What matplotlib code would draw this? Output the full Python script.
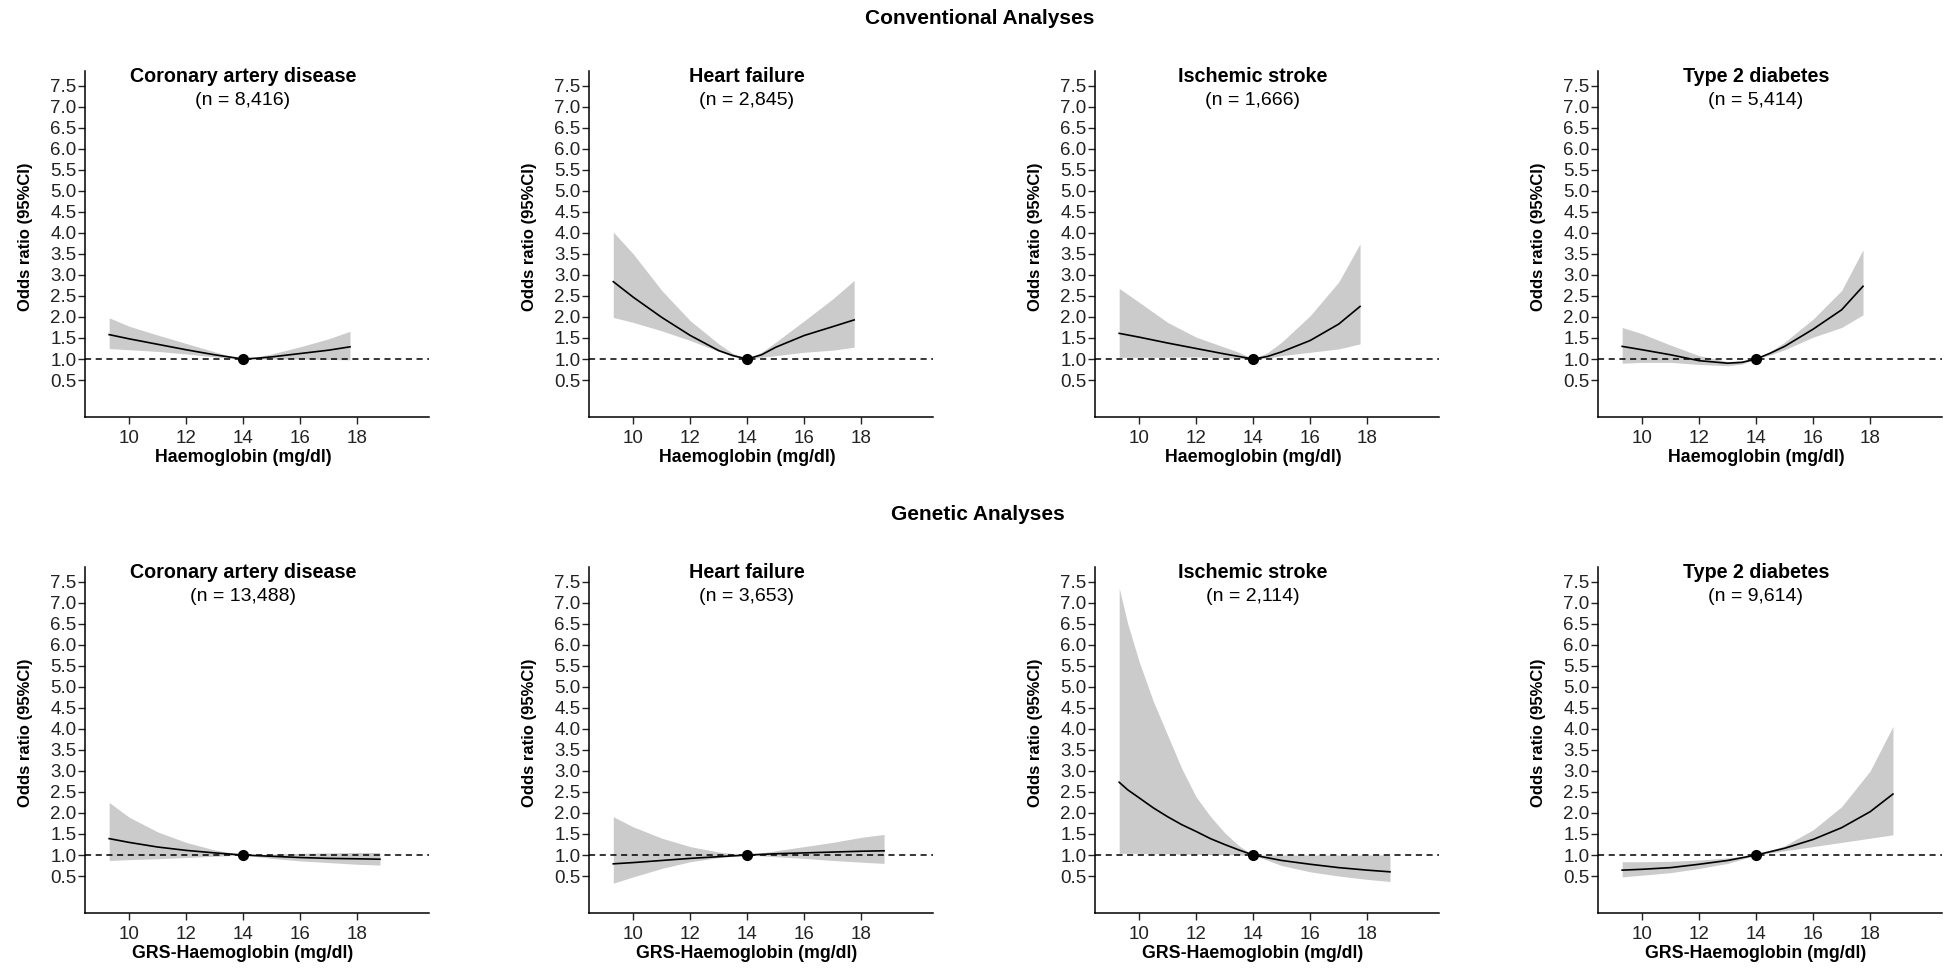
import matplotlib
matplotlib.use('Agg')
import matplotlib.pyplot as plt

plt.rcParams['font.family'] = ['Liberation Sans', 'DejaVu Sans']

# x grids (haemoglobin, mg/dl)
x_conv = [9.3, 10, 11, 12, 13, 13.5, 14, 14.5, 15, 16, 17, 17.75]
x_gen = [9.3, 10, 11, 12, 13, 14, 15, 16, 17, 18, 18.8]
x_gen_is = [9.3, 9.6, 10, 10.5, 11, 11.5, 12, 12.5, 13, 13.5, 14, 15, 16, 17, 18, 18.8]

# conventional analyses: odds ratio, lower, upper
cad_or = [1.58, 1.48, 1.35, 1.22, 1.10, 1.05, 1.0, 1.02, 1.05, 1.13, 1.21, 1.29]
cad_lo = [1.25, 1.22, 1.18, 1.12, 1.05, 1.02, 1.0, 1.00, 1.00, 1.00, 0.99, 0.98]
cad_hi = [1.98, 1.78, 1.57, 1.37, 1.17, 1.08, 1.0, 1.05, 1.12, 1.29, 1.48, 1.66]

hf_or = [2.84, 2.47, 1.99, 1.56, 1.20, 1.08, 1.0, 1.10, 1.28, 1.56, 1.77, 1.93]
hf_lo = [1.99, 1.87, 1.67, 1.44, 1.18, 1.06, 1.0, 1.04, 1.08, 1.16, 1.21, 1.28]
hf_hi = [4.02, 3.50, 2.63, 1.91, 1.36, 1.13, 1.0, 1.16, 1.40, 1.91, 2.43, 2.87]

is_or = [1.61, 1.52, 1.38, 1.25, 1.12, 1.06, 1.0, 1.06, 1.17, 1.44, 1.83, 2.25]
is_lo = [1.04, 1.04, 1.04, 1.05, 1.03, 1.01, 1.0, 1.02, 1.08, 1.16, 1.24, 1.36]
is_hi = [2.68, 2.35, 1.87, 1.52, 1.28, 1.16, 1.0, 1.15, 1.40, 2.03, 2.83, 3.74]

t2d_or = [1.30, 1.22, 1.10, 0.96, 0.90, 0.92, 1.0, 1.14, 1.30, 1.71, 2.17, 2.73]
t2d_lo = [0.90, 0.92, 0.92, 0.87, 0.84, 0.88, 1.0, 1.10, 1.22, 1.52, 1.75, 2.05]
t2d_hi = [1.75, 1.60, 1.33, 1.08, 0.94, 0.96, 1.0, 1.18, 1.40, 1.95, 2.63, 3.60]

# genetic analyses
gcad_or = [1.39, 1.30, 1.19, 1.11, 1.05, 1.0, 0.97, 0.94, 0.92, 0.91, 0.90]
gcad_lo = [0.87, 0.89, 0.91, 0.94, 0.97, 1.0, 0.92, 0.86, 0.82, 0.78, 0.76]
gcad_hi = [2.25, 1.90, 1.55, 1.30, 1.12, 1.0, 1.02, 1.04, 1.05, 1.06, 1.06]

ghf_or = [0.79, 0.82, 0.87, 0.92, 0.96, 1.0, 1.03, 1.05, 1.07, 1.09, 1.10]
ghf_lo = [0.33, 0.48, 0.68, 0.84, 0.94, 1.0, 0.96, 0.92, 0.87, 0.83, 0.80]
ghf_hi = [1.91, 1.67, 1.40, 1.20, 1.07, 1.0, 1.10, 1.20, 1.30, 1.42, 1.49]

gis_or = [2.73, 2.55, 2.36, 2.12, 1.91, 1.72, 1.56, 1.39, 1.25, 1.12, 1.0, 0.87, 0.78, 0.70, 0.64, 0.60]
gis_lo = [1.04, 1.04, 1.04, 1.03, 1.03, 1.02, 1.02, 1.01, 1.01, 1.0, 1.0, 0.75, 0.60, 0.50, 0.42, 0.37]
gis_hi = [7.35, 6.5, 5.6, 4.65, 3.85, 3.05, 2.38, 1.92, 1.53, 1.22, 1.0, 1.0, 1.0, 1.0, 1.0, 1.0]

gt2d_or = [0.64, 0.66, 0.70, 0.78, 0.87, 1.0, 1.16, 1.37, 1.65, 2.03, 2.45]
gt2d_lo = [0.48, 0.52, 0.58, 0.68, 0.80, 1.0, 1.10, 1.20, 1.30, 1.40, 1.48]
gt2d_hi = [0.84, 0.84, 0.85, 0.88, 0.93, 1.0, 1.22, 1.60, 2.15, 3.00, 4.06]

titles = ['Coronary artery disease', 'Heart failure', 'Ischemic stroke', 'Type 2 diabetes']
n_conv = ['(n = 8,416)', '(n = 2,845)', '(n = 1,666)', '(n = 5,414)']
n_gen = ['(n = 13,488)', '(n = 3,653)', '(n = 2,114)', '(n = 9,614)']

conv = [(x_conv, cad_or, cad_lo, cad_hi), (x_conv, hf_or, hf_lo, hf_hi),
        (x_conv, is_or, is_lo, is_hi), (x_conv, t2d_or, t2d_lo, t2d_hi)]
gen = [(x_gen, gcad_or, gcad_lo, gcad_hi), (x_gen, ghf_or, ghf_lo, ghf_hi),
       (x_gen_is, gis_or, gis_lo, gis_hi), (x_gen, gt2d_or, gt2d_lo, gt2d_hi)]

fig = plt.figure(figsize=(19.48, 9.68), dpi=100)

lefts = [0.0436, 0.3024, 0.5621, 0.8203]
bottoms = [0.5692, 0.0568]
w, h = 0.1766, 0.3574

for r, (rows, ns, xlab) in enumerate([(conv, n_conv, 'Haemoglobin (mg/dl)'),
                                       (gen, n_gen, 'GRS-Haemoglobin (mg/dl)')]):
    for c in range(4):
        ax = fig.add_axes([lefts[c], bottoms[r], w, h])
        x, o, lo, hi = rows[c]
        ax.fill_between(x, lo, hi, color='#cbcbcb', lw=0)
        ax.axhline(1.0, color='black', ls=(0, (4, 3)), lw=1.1)
        ax.plot(x, o, color='black', lw=1.2)
        ax.plot([14], [1.0], 'o', color='black', ms=7)
        ax.set_xlim(8.45, 20.52)
        ax.set_ylim(-0.38, 7.85)
        ax.set_xticks([10, 12, 14, 16, 18])
        ax.set_yticks([0.5, 1, 1.5, 2, 2.5, 3, 3.5, 4, 4.5, 5, 5.5, 6, 6.5, 7, 7.5])
        ax.set_yticklabels(['0.5', '1.0', '1.5', '2.0', '2.5', '3.0', '3.5', '4.0',
                            '4.5', '5.0', '5.5', '6.0', '6.5', '7.0', '7.5'])
        ax.tick_params(axis='both', labelsize=13.5, length=5, width=1, colors='#222222')
        ax.tick_params(axis='y', pad=1)
        ax.tick_params(axis='x', pad=4)
        ax.spines['top'].set_visible(False)
        ax.spines['right'].set_visible(False)
        for s in ['left', 'bottom']:
            ax.spines[s].set_linewidth(1.1)
        ax.set_ylabel('Odds ratio (95%CI)', fontsize=12, fontweight='bold')
        ax.yaxis.set_label_coords(-0.151, 0.52)
        ax.set_xlabel(xlab, fontsize=12.8, fontweight='bold')
        ax.xaxis.set_label_coords(0.459, -0.092)
        ax.text(0.459, 0.985, titles[c], transform=ax.transAxes, ha='center', va='center',
                fontsize=14.2, fontweight='bold')
        ax.text(0.459, 0.916, ns[c], transform=ax.transAxes, ha='center', va='center',
                fontsize=14)

fig.text(0.503, 0.981, 'Conventional Analyses', ha='center', va='center', fontsize=15, fontweight='bold')
fig.text(0.502, 0.468, 'Genetic Analyses', ha='center', va='center', fontsize=15, fontweight='bold')

plt.savefig('out.png', dpi=100)
